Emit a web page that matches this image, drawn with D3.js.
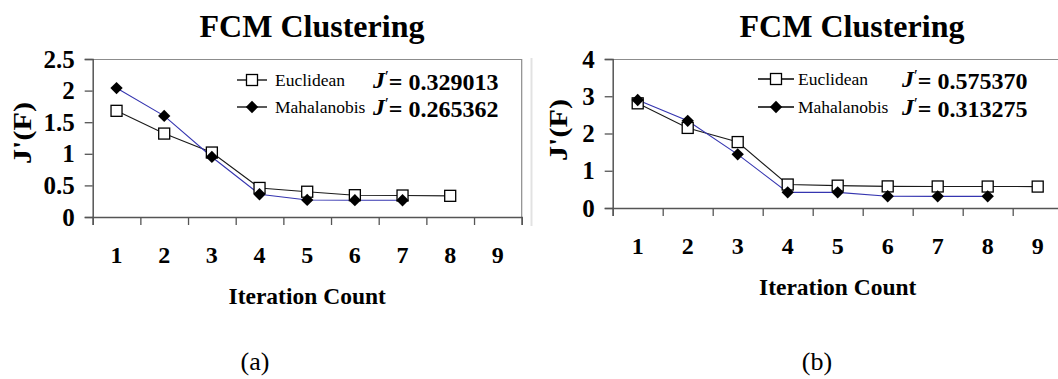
<!DOCTYPE html>
<html>
<head>
<meta charset="utf-8">
<script src="https://cdn.jsdelivr.net/npm/d3@7"></script>
<style>
  body { margin: 0; background: #fff; }
</style>
</head>
<body>
<div id="chart"></div>
<script>
// iterations (x categories)
const iterations = [1, 2, 3, 4, 5, 6, 7, 8, 9];

// panel (a)
const eucA = [1.68, 1.32, 1.02, 0.46, 0.40, 0.345, 0.34, 0.335];
const mahA = [2.04, 1.60, 0.95, 0.36, 0.27, 0.266, 0.265];
const yTicksA = [0, 0.5, 1, 1.5, 2, 2.5];
const jValuesA = ["0.329013", "0.265362"];

// panel (b)
const eucB = [2.81, 2.15, 1.77, 0.63, 0.60, 0.58, 0.578, 0.576, 0.575];
const mahB = [2.90, 2.34, 1.44, 0.42, 0.42, 0.315, 0.313, 0.313];
const yTicksB = [0, 1, 2, 3, 4];
const jValuesB = ["0.575370", "0.313275"];

const seriesNames = ["Euclidean", "Mahalanobis"];

const FONT = "Liberation Serif, Times New Roman, DejaVu Serif, serif";
const W = 1058, H = 379;
const svg = d3.select("#chart").append("svg")
    .attr("width", W)
    .attr("height", H)
    .attr("font-family", FONT);

svg.append("rect").attr("width", W).attr("height", H).attr("fill", "#fff");

// faint frame line at left of panel (b)
svg.append("line")
    .attr("x1", 531.5).attr("x2", 531.5)
    .attr("y1", 58).attr("y2", 226)
    .attr("stroke", "#e2e2e2").attr("stroke-width", 2);

function diamond() {
    return d3.symbol(d3.symbolSquare, 76)();
}

function drawPanel(p) {
    const g = svg.append("g").attr("transform", `translate(${p.left},${p.top})`);
    const w = p.width, h = p.height;

    const xBand = d3.scaleBand().domain(iterations).range([0, w]);
    const xEdge = d3.scaleLinear().domain([0, iterations.length]).range([0, w]);
    const y = d3.scaleLinear().domain([0, d3.max(p.yTicks)]).range([h, 0]);

    // plot frame (top/right)
    g.append("path")
        .attr("d", `M0,0.5H${w}V${h}`)
        .attr("fill", "none").attr("stroke", "#8c8c8c").attr("stroke-width", 1.2);

    // y axis
    const yAx = g.append("g").call(d3.axisLeft(y).tickValues(p.yTicks).tickSize(8).tickPadding(10).tickFormat(d3.format("")));
    yAx.attr("font-family", FONT);
    yAx.select(".domain").attr("stroke", "#555").attr("stroke-width", 1.5);
    yAx.selectAll(".tick line").attr("stroke", "#555").attr("stroke-width", 1.3);
    yAx.selectAll("text")
        .attr("font-weight", "bold")
        .attr("font-size", 25).attr("fill", "#000");

    // x tick marks at band edges
    const xAx = g.append("g").attr("transform", `translate(0,${h})`)
        .call(d3.axisBottom(xEdge).tickValues(d3.range(iterations.length + 1)).tickSize(8).tickFormat(""));
    xAx.select(".domain").attr("stroke", "#555").attr("stroke-width", 1.5);
    xAx.selectAll(".tick line").attr("stroke", "#555").attr("stroke-width", 1.3);

    // x labels at band centres
    const xLab = g.append("g").attr("transform", `translate(0,${h})`)
        .call(d3.axisBottom(xBand).tickSize(0).tickPadding(29));
    xLab.attr("font-family", FONT);
    xLab.select(".domain").remove();
    xLab.selectAll("text")
        .attr("font-weight", "bold")
        .attr("font-size", 24).attr("fill", "#000");

    const cx = (d, i) => xBand(iterations[i]) + xBand.bandwidth() / 2;

    // lines
    const line = d3.line().x((d, i) => cx(d, i)).y(d => y(d));
    g.append("path").datum(p.euc).attr("d", line)
        .attr("fill", "none").attr("stroke", "#1a1a1a").attr("stroke-width", 1.1);
    g.append("path").datum(p.mah).attr("d", line)
        .attr("fill", "none").attr("stroke", "#3535b0").attr("stroke-width", 1.1);

    // markers
    g.selectAll(".sq").data(p.euc).enter().append("rect")
        .attr("x", (d, i) => cx(d, i) - 5.5).attr("y", d => y(d) - 5.5)
        .attr("width", 11).attr("height", 11)
        .attr("fill", "#fff").attr("stroke", "#000").attr("stroke-width", 1.3);
    g.selectAll(".dm").data(p.mah).enter().append("path")
        .attr("d", diamond())
        .attr("transform", (d, i) => `translate(${cx(d, i)},${y(d)}) rotate(45)`)
        .attr("fill", "#000");

    // title
    svg.append("text")
        .attr("x", p.titleX).attr("y", 37)
        .attr("text-anchor", "middle")
        .attr("font-weight", "bold").attr("font-size", 32)
        .text("FCM Clustering");

    // axis titles
    svg.append("text")
        .attr("x", p.left + w / 2).attr("y", p.top + h + 87)
        .attr("text-anchor", "middle")
        .attr("font-weight", "bold").attr("font-size", 23.5)
        .text("Iteration Count");
    svg.append("text")
        .attr("transform", `translate(${p.yLabX},${p.yLabY}) rotate(-90)`)
        .attr("text-anchor", "middle").attr("dy", "0.35em")
        .attr("font-weight", "bold").attr("font-size", 25)
        .attr("textLength", 62).attr("lengthAdjust", "spacingAndGlyphs")
        .text("J'(F)");

    // legend
    const L = p.legend;
    seriesNames.forEach((name, i) => {
        const ly = L.rows[i];
        svg.append("line")
            .attr("x1", L.x0).attr("x2", L.x1).attr("y1", ly).attr("y2", ly)
            .attr("stroke", "#000").attr("stroke-width", 1.3);
        if (i === 0) {
            svg.append("rect")
                .attr("x", L.mx - 5.5).attr("y", ly - 5.5).attr("width", 11).attr("height", 11)
                .attr("fill", "#fff").attr("stroke", "#000").attr("stroke-width", 1.3);
        } else {
            svg.append("path").attr("d", diamond())
                .attr("transform", `translate(${L.mx},${ly}) rotate(45)`).attr("fill", "#000");
        }
        svg.append("text")
            .attr("x", L.tx).attr("y", ly).attr("dy", "0.33em")
            .attr("font-size", 17.5)
            .text(name);
        const jt = svg.append("text")
            .attr("x", L.jx).attr("y", ly).attr("dy", "0.33em")
            .attr("font-size", 24).attr("font-weight", "bold");
        jt.append("tspan").attr("font-style", "italic").text("J");
        jt.append("tspan").attr("font-weight", "normal").attr("font-size", 17).attr("dy", "-0.35em").text("\u2032");
        jt.append("tspan").attr("dy", "0.35em").text("= " + p.jValues[i]);
    });

    // caption
    svg.append("text")
        .attr("x", p.capX).attr("y", 370)
        .attr("text-anchor", "middle")
        .attr("font-size", 26)
        .text(p.caption);
}

drawPanel({
    left: 92.7, top: 59, width: 429, height: 158,
    yTicks: yTicksA, euc: eucA, mah: mahA, jValues: jValuesA,
    titleX: 312, yLabX: 22, yLabY: 133, capX: 255, caption: "(a)",
    legend: { rows: [80, 107], x0: 237, x1: 267, mx: 252, tx: 275, jx: 373 }
});

drawPanel({
    left: 612.7, top: 59, width: 450, height: 149,
    yTicks: yTicksB, euc: eucB, mah: mahB, jValues: jValuesB,
    titleX: 852, yLabX: 558, yLabY: 130, capX: 817, caption: "(b)",
    legend: { rows: [79, 107], x0: 758, x1: 794, mx: 776, tx: 798, jx: 902 }
});
</script>
</body>
</html>
